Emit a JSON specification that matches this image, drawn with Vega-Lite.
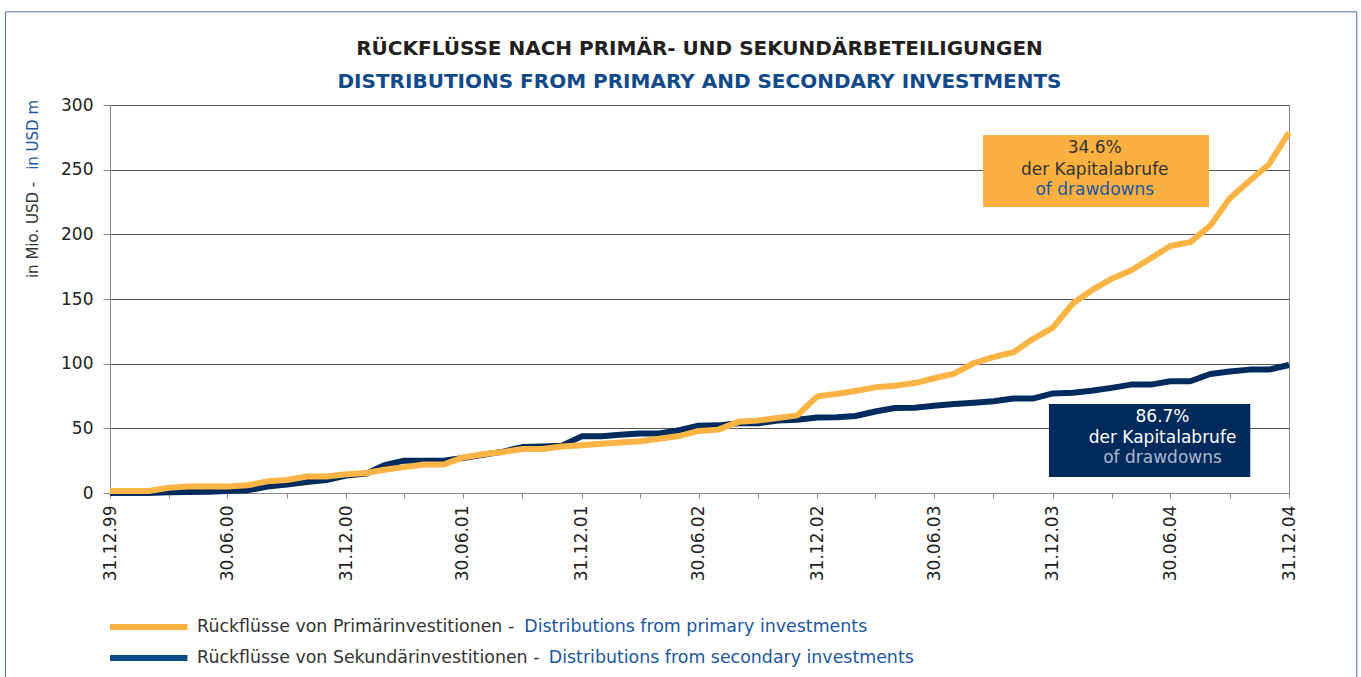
{
  "$schema": "https://vega.github.io/schema/vega-lite/v6.json",
  "width": 1179,
  "height": 388,
  "autosize": {"type": "none"},
  "padding": {"left": 110, "top": 105, "right": 72, "bottom": 184},
  "background": "white",
  "title": {
    "text": "RÜCKFLÜSSE NACH PRIMÄR- UND SEKUNDÄRBETEILIGUNGEN",
    "subtitle": "DISTRIBUTIONS FROM PRIMARY AND SECONDARY INVESTMENTS",
    "font": "DejaVu Sans", "fontSize": 20, "fontWeight": "bold", "color": "#231F20",
    "subtitleFont": "DejaVu Sans", "subtitleFontSize": 20, "subtitleFontWeight": "bold", "subtitleColor": "#114A8B",
    "subtitlePadding": 13, "anchor": "middle", "frame": "group", "offset": -81
  },
  "datasets": {
    "s": [
      {"date": "1999-12-31", "series": "secondary", "value": 0},
      {"date": "2000-01-31", "series": "secondary", "value": 0},
      {"date": "2000-02-29", "series": "secondary", "value": 0},
      {"date": "2000-03-31", "series": "secondary", "value": 0.5},
      {"date": "2000-04-30", "series": "secondary", "value": 0.8},
      {"date": "2000-05-31", "series": "secondary", "value": 1},
      {"date": "2000-06-30", "series": "secondary", "value": 1.5},
      {"date": "2000-07-31", "series": "secondary", "value": 2},
      {"date": "2000-08-31", "series": "secondary", "value": 5},
      {"date": "2000-09-30", "series": "secondary", "value": 6.5},
      {"date": "2000-10-31", "series": "secondary", "value": 8.5},
      {"date": "2000-11-30", "series": "secondary", "value": 10},
      {"date": "2000-12-31", "series": "secondary", "value": 13.5},
      {"date": "2001-01-31", "series": "secondary", "value": 15},
      {"date": "2001-02-28", "series": "secondary", "value": 21.5},
      {"date": "2001-03-31", "series": "secondary", "value": 25},
      {"date": "2001-04-30", "series": "secondary", "value": 25},
      {"date": "2001-05-31", "series": "secondary", "value": 25},
      {"date": "2001-06-30", "series": "secondary", "value": 27},
      {"date": "2001-07-31", "series": "secondary", "value": 29.6},
      {"date": "2001-08-31", "series": "secondary", "value": 32},
      {"date": "2001-09-30", "series": "secondary", "value": 35.5},
      {"date": "2001-10-31", "series": "secondary", "value": 36},
      {"date": "2001-11-30", "series": "secondary", "value": 36.6},
      {"date": "2001-12-31", "series": "secondary", "value": 43.8},
      {"date": "2002-01-31", "series": "secondary", "value": 43.8},
      {"date": "2002-02-28", "series": "secondary", "value": 45},
      {"date": "2002-03-31", "series": "secondary", "value": 46},
      {"date": "2002-04-30", "series": "secondary", "value": 46},
      {"date": "2002-05-31", "series": "secondary", "value": 48.5},
      {"date": "2002-06-30", "series": "secondary", "value": 52},
      {"date": "2002-07-31", "series": "secondary", "value": 52.3},
      {"date": "2002-08-31", "series": "secondary", "value": 54},
      {"date": "2002-09-30", "series": "secondary", "value": 54},
      {"date": "2002-10-31", "series": "secondary", "value": 56},
      {"date": "2002-11-30", "series": "secondary", "value": 56.7},
      {"date": "2002-12-31", "series": "secondary", "value": 58.3},
      {"date": "2003-01-31", "series": "secondary", "value": 58.5},
      {"date": "2003-02-28", "series": "secondary", "value": 59.5},
      {"date": "2003-03-31", "series": "secondary", "value": 63},
      {"date": "2003-04-30", "series": "secondary", "value": 65.7},
      {"date": "2003-05-31", "series": "secondary", "value": 66},
      {"date": "2003-06-30", "series": "secondary", "value": 67.5},
      {"date": "2003-07-31", "series": "secondary", "value": 68.8},
      {"date": "2003-08-31", "series": "secondary", "value": 69.8},
      {"date": "2003-09-30", "series": "secondary", "value": 71},
      {"date": "2003-10-31", "series": "secondary", "value": 73},
      {"date": "2003-11-30", "series": "secondary", "value": 73},
      {"date": "2003-12-31", "series": "secondary", "value": 77},
      {"date": "2004-01-31", "series": "secondary", "value": 77.5},
      {"date": "2004-02-29", "series": "secondary", "value": 79},
      {"date": "2004-03-31", "series": "secondary", "value": 81.3},
      {"date": "2004-04-30", "series": "secondary", "value": 83.8},
      {"date": "2004-05-31", "series": "secondary", "value": 83.8},
      {"date": "2004-06-30", "series": "secondary", "value": 86.4},
      {"date": "2004-07-31", "series": "secondary", "value": 86.4},
      {"date": "2004-08-31", "series": "secondary", "value": 92},
      {"date": "2004-09-30", "series": "secondary", "value": 94},
      {"date": "2004-10-31", "series": "secondary", "value": 95.4},
      {"date": "2004-11-30", "series": "secondary", "value": 95.4},
      {"date": "2004-12-31", "series": "secondary", "value": 99},
      {"date": "1999-12-31", "series": "primary", "value": 1.5},
      {"date": "2000-01-31", "series": "primary", "value": 1.5},
      {"date": "2000-02-29", "series": "primary", "value": 1.5},
      {"date": "2000-03-31", "series": "primary", "value": 4},
      {"date": "2000-04-30", "series": "primary", "value": 5},
      {"date": "2000-05-31", "series": "primary", "value": 5},
      {"date": "2000-06-30", "series": "primary", "value": 5},
      {"date": "2000-07-31", "series": "primary", "value": 6},
      {"date": "2000-08-31", "series": "primary", "value": 9},
      {"date": "2000-09-30", "series": "primary", "value": 10},
      {"date": "2000-10-31", "series": "primary", "value": 12.7},
      {"date": "2000-11-30", "series": "primary", "value": 12.7},
      {"date": "2000-12-31", "series": "primary", "value": 14.5},
      {"date": "2001-01-31", "series": "primary", "value": 15.5},
      {"date": "2001-02-28", "series": "primary", "value": 18},
      {"date": "2001-03-31", "series": "primary", "value": 20},
      {"date": "2001-04-30", "series": "primary", "value": 22},
      {"date": "2001-05-31", "series": "primary", "value": 22},
      {"date": "2001-06-30", "series": "primary", "value": 27.5},
      {"date": "2001-07-31", "series": "primary", "value": 30},
      {"date": "2001-08-31", "series": "primary", "value": 31.7},
      {"date": "2001-09-30", "series": "primary", "value": 34},
      {"date": "2001-10-31", "series": "primary", "value": 34},
      {"date": "2001-11-30", "series": "primary", "value": 36},
      {"date": "2001-12-31", "series": "primary", "value": 37},
      {"date": "2002-01-31", "series": "primary", "value": 38},
      {"date": "2002-02-28", "series": "primary", "value": 39},
      {"date": "2002-03-31", "series": "primary", "value": 40},
      {"date": "2002-04-30", "series": "primary", "value": 42},
      {"date": "2002-05-31", "series": "primary", "value": 44},
      {"date": "2002-06-30", "series": "primary", "value": 48},
      {"date": "2002-07-31", "series": "primary", "value": 49},
      {"date": "2002-08-31", "series": "primary", "value": 55},
      {"date": "2002-09-30", "series": "primary", "value": 56},
      {"date": "2002-10-31", "series": "primary", "value": 58},
      {"date": "2002-11-30", "series": "primary", "value": 60},
      {"date": "2002-12-31", "series": "primary", "value": 74.7},
      {"date": "2003-01-31", "series": "primary", "value": 76.8},
      {"date": "2003-02-28", "series": "primary", "value": 78.9},
      {"date": "2003-03-31", "series": "primary", "value": 81.7},
      {"date": "2003-04-30", "series": "primary", "value": 83},
      {"date": "2003-05-31", "series": "primary", "value": 85},
      {"date": "2003-06-30", "series": "primary", "value": 88.7},
      {"date": "2003-07-31", "series": "primary", "value": 92.3},
      {"date": "2003-08-31", "series": "primary", "value": 100.5},
      {"date": "2003-09-30", "series": "primary", "value": 105},
      {"date": "2003-10-31", "series": "primary", "value": 108.8},
      {"date": "2003-11-30", "series": "primary", "value": 119},
      {"date": "2003-12-31", "series": "primary", "value": 127.8},
      {"date": "2004-01-31", "series": "primary", "value": 146.5},
      {"date": "2004-02-29", "series": "primary", "value": 156.6},
      {"date": "2004-03-31", "series": "primary", "value": 165.6},
      {"date": "2004-04-30", "series": "primary", "value": 172},
      {"date": "2004-05-31", "series": "primary", "value": 181.5},
      {"date": "2004-06-30", "series": "primary", "value": 191},
      {"date": "2004-07-31", "series": "primary", "value": 194},
      {"date": "2004-08-31", "series": "primary", "value": 206.7},
      {"date": "2004-09-30", "series": "primary", "value": 227.8},
      {"date": "2004-10-31", "series": "primary", "value": 241.4},
      {"date": "2004-11-30", "series": "primary", "value": 254.2},
      {"date": "2004-12-31", "series": "primary", "value": 278.7}
    ]
  },
  "layer": [
    {
      "data": {"values": [{}]},
      "mark": {"type": "rect", "fillOpacity": 0, "stroke": "#4A72A8", "strokeWidth": 1},
      "encoding": {
        "x": {"datum": {"year": 1999, "month": 7, "date": 22, "utc": true}, "type": "temporal"},
        "x2": {"datum": {"year": 2005, "month": 4, "date": 15, "utc": true}},
        "y": {"datum": 372, "type": "quantitative"},
        "y2": {"datum": -170}
      }
    },
    {
      "data": {"name": "s"},
      "transform": [{"filter": "datum.series == 'secondary'"}],
      "mark": {"type": "line", "strokeWidth": 6, "strokeJoin": "round"},
      "encoding": {
        "x": {
          "field": "date", "type": "temporal",
          "scale": {"type": "utc", "domain": [{"year": 1999, "month": 12, "date": 31, "utc": true}, {"year": 2004, "month": 12, "date": 31, "utc": true}]},
          "axis": {
            "title": null,
            "values": [
              {"year": 1999, "month": 12, "date": 31, "utc": true},
              {"year": 2000, "month": 3, "date": 31, "utc": true},
              {"year": 2000, "month": 6, "date": 30, "utc": true},
              {"year": 2000, "month": 9, "date": 30, "utc": true},
              {"year": 2000, "month": 12, "date": 31, "utc": true},
              {"year": 2001, "month": 3, "date": 31, "utc": true},
              {"year": 2001, "month": 6, "date": 30, "utc": true},
              {"year": 2001, "month": 9, "date": 30, "utc": true},
              {"year": 2001, "month": 12, "date": 31, "utc": true},
              {"year": 2002, "month": 3, "date": 31, "utc": true},
              {"year": 2002, "month": 6, "date": 30, "utc": true},
              {"year": 2002, "month": 9, "date": 30, "utc": true},
              {"year": 2002, "month": 12, "date": 31, "utc": true},
              {"year": 2003, "month": 3, "date": 31, "utc": true},
              {"year": 2003, "month": 6, "date": 30, "utc": true},
              {"year": 2003, "month": 9, "date": 30, "utc": true},
              {"year": 2003, "month": 12, "date": 31, "utc": true},
              {"year": 2004, "month": 3, "date": 31, "utc": true},
              {"year": 2004, "month": 6, "date": 30, "utc": true},
              {"year": 2004, "month": 9, "date": 30, "utc": true},
              {"year": 2004, "month": 12, "date": 31, "utc": true}
            ],
            "labelExpr": "(utcmonth(datum.value) == 5 || utcmonth(datum.value) == 11) ? utcFormat(datum.value, '%d.%m.%y') : ''",
            "labelAngle": 270, "labelFontSize": 17, "labelColor": "#222222", "labelPadding": 7,
            "labelFlush": false, "labelOverlap": false, "grid": false,
            "tickSize": 5, "tickColor": "#888888", "domainColor": "#888888"
          }
        },
        "y": {
          "field": "value", "type": "quantitative",
          "scale": {"domain": [0, 300], "nice": false},
          "axis": {
            "title": null, "values": [0, 50, 100, 150, 200, 250, 300],
            "labelFontSize": 17, "labelColor": "#222222", "labelPadding": 10,
            "grid": true, "gridColor": "#555555", "gridWidth": 1,
            "tickSize": 7, "tickColor": "#888888", "domainColor": "#888888"
          }
        },
        "color": {
          "field": "series", "type": "nominal",
          "scale": {"domain": ["primary", "secondary"], "range": ["#FCB445", "#002B5E"]},
          "legend": null
        }
      }
    },
    {
      "data": {"name": "s"},
      "transform": [{"filter": "datum.series == 'primary'"}],
      "mark": {"type": "line", "strokeWidth": 6, "strokeJoin": "round"},
      "encoding": {
        "x": {"field": "date", "type": "temporal"},
        "y": {"field": "value", "type": "quantitative"},
        "color": {"field": "series", "type": "nominal"}
      }
    },
    {
      "data": {"values": [{}]},
      "mark": {"type": "rect", "fill": "#FBB040"},
      "encoding": {
        "x": {"datum": {"year": 2003, "month": 9, "date": 14, "utc": true}, "type": "temporal"},
        "x2": {"datum": {"year": 2004, "month": 8, "date": 29, "utc": true}},
        "y": {"datum": 276.8, "type": "quantitative"},
        "y2": {"datum": 221.1}
      }
    },
    {
      "data": {"values": [{}]},
      "mark": {"type": "rect", "fill": "#002A5C"},
      "encoding": {
        "x": {"datum": {"year": 2003, "month": 12, "date": 25, "utc": true}, "type": "temporal"},
        "x2": {"datum": {"year": 2004, "month": 11, "date": 1, "utc": true}},
        "y": {"datum": 68.8, "type": "quantitative"},
        "y2": {"datum": 12.4}
      }
    },
    {
      "data": {"values": [{}]},
      "mark": {"type": "text", "text": "34.6%", "fontSize": 17, "color": "#333333", "align": "center", "baseline": "middle"},
      "encoding": {
        "x": {"datum": {"year": 2004, "month": 3, "date": 5, "utc": true}, "type": "temporal"},
        "y": {"datum": 266.4, "type": "quantitative"}
      }
    },
    {
      "data": {"values": [{}]},
      "mark": {"type": "text", "text": "der Kapitalabrufe", "fontSize": 17, "color": "#333333", "align": "center", "baseline": "middle"},
      "encoding": {
        "x": {"datum": {"year": 2004, "month": 3, "date": 5, "utc": true}, "type": "temporal"},
        "y": {"datum": 250.1, "type": "quantitative"}
      }
    },
    {
      "data": {"values": [{}]},
      "mark": {"type": "text", "text": "of drawdowns", "fontSize": 17, "color": "#1C57A0", "align": "center", "baseline": "middle"},
      "encoding": {
        "x": {"datum": {"year": 2004, "month": 3, "date": 5, "utc": true}, "type": "temporal"},
        "y": {"datum": 233.9, "type": "quantitative"}
      }
    },
    {
      "data": {"values": [{}]},
      "mark": {"type": "text", "text": "86.7%", "fontSize": 17, "color": "#FFFFFF", "align": "center", "baseline": "middle"},
      "encoding": {
        "x": {"datum": {"year": 2004, "month": 6, "date": 18, "utc": true}, "type": "temporal"},
        "y": {"datum": 59.1, "type": "quantitative"}
      }
    },
    {
      "data": {"values": [{}]},
      "mark": {"type": "text", "text": "der Kapitalabrufe", "fontSize": 17, "color": "#FFFFFF", "align": "center", "baseline": "middle"},
      "encoding": {
        "x": {"datum": {"year": 2004, "month": 6, "date": 18, "utc": true}, "type": "temporal"},
        "y": {"datum": 42.5, "type": "quantitative"}
      }
    },
    {
      "data": {"values": [{}]},
      "mark": {"type": "text", "text": "of drawdowns", "fontSize": 17, "color": "#AAB8CE", "align": "center", "baseline": "middle"},
      "encoding": {
        "x": {"datum": {"year": 2004, "month": 6, "date": 18, "utc": true}, "type": "temporal"},
        "y": {"datum": 26.7, "type": "quantitative"}
      }
    },
    {
      "data": {"values": [{}]},
      "mark": {"type": "rule", "strokeWidth": 6, "color": "#FBB040"},
      "encoding": {
        "x": {"datum": {"year": 1999, "month": 12, "date": 31, "utc": true}, "type": "temporal"},
        "x2": {"datum": {"year": 2000, "month": 4, "date": 29, "utc": true}},
        "y": {"datum": -103.6, "type": "quantitative"}
      }
    },
    {
      "data": {"values": [{}]},
      "mark": {"type": "rule", "strokeWidth": 6, "color": "#0D4A8A"},
      "encoding": {
        "x": {"datum": {"year": 1999, "month": 12, "date": 31, "utc": true}, "type": "temporal"},
        "x2": {"datum": {"year": 2000, "month": 4, "date": 29, "utc": true}},
        "y": {"datum": -127.6, "type": "quantitative"}
      }
    },
    {
      "data": {"values": [{}]},
      "mark": {"type": "text", "text": "Rückflüsse von Primärinvestitionen -", "fontSize": 17.4, "color": "#333333", "align": "left", "baseline": "middle"},
      "encoding": {
        "x": {"datum": {"year": 2000, "month": 5, "date": 14, "utc": true}, "type": "temporal"},
        "y": {"datum": -103.6, "type": "quantitative"}
      }
    },
    {
      "data": {"values": [{}]},
      "mark": {"type": "text", "text": "Distributions from primary investments", "fontSize": 17.4, "color": "#1C57A0", "align": "left", "baseline": "middle"},
      "encoding": {
        "x": {"datum": {"year": 2001, "month": 10, "date": 3, "utc": true}, "type": "temporal"},
        "y": {"datum": -103.6, "type": "quantitative"}
      }
    },
    {
      "data": {"values": [{}]},
      "mark": {"type": "text", "text": "Rückflüsse von Sekundärinvestitionen -", "fontSize": 17.4, "color": "#333333", "align": "left", "baseline": "middle"},
      "encoding": {
        "x": {"datum": {"year": 2000, "month": 5, "date": 14, "utc": true}, "type": "temporal"},
        "y": {"datum": -127.6, "type": "quantitative"}
      }
    },
    {
      "data": {"values": [{}]},
      "mark": {"type": "text", "text": "Distributions from secondary investments", "fontSize": 17.4, "color": "#1C57A0", "align": "left", "baseline": "middle"},
      "encoding": {
        "x": {"datum": {"year": 2001, "month": 11, "date": 10, "utc": true}, "type": "temporal"},
        "y": {"datum": -127.6, "type": "quantitative"}
      }
    },
    {
      "data": {"values": [{}]},
      "mark": {"type": "text", "text": "in Mio. USD -", "fontSize": 15, "color": "#333333", "align": "left", "baseline": "middle", "angle": 270},
      "encoding": {
        "x": {"datum": {"year": 1999, "month": 9, "date": 3, "utc": true}, "type": "temporal"},
        "y": {"datum": 166.2, "type": "quantitative"}
      }
    },
    {
      "data": {"values": [{}]},
      "mark": {"type": "text", "text": "in USD m", "fontSize": 15, "color": "#1C57A0", "align": "right", "baseline": "middle", "angle": 270},
      "encoding": {
        "x": {"datum": {"year": 1999, "month": 9, "date": 3, "utc": true}, "type": "temporal"},
        "y": {"datum": 303.9, "type": "quantitative"}
      }
    }
  ],
  "config": {
    "font": "DejaVu Sans",
    "view": {"stroke": "#888888", "strokeWidth": 1}
  }
}
